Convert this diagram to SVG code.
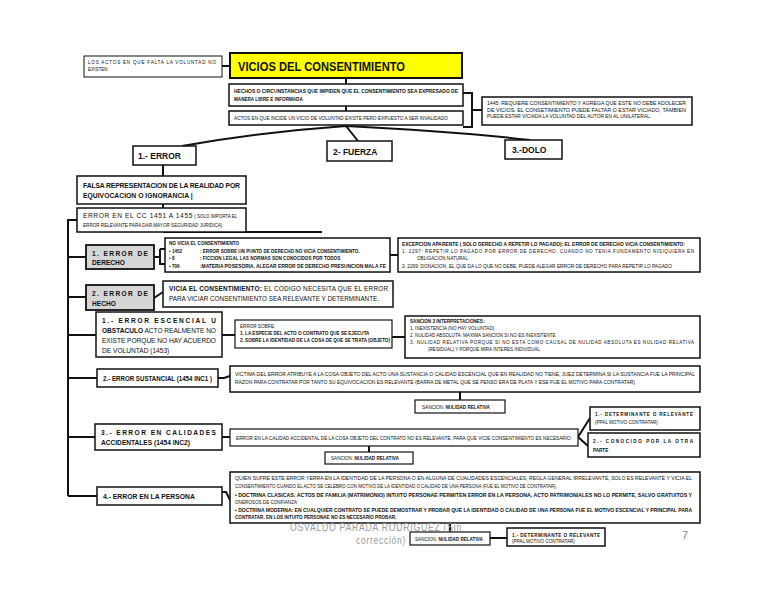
<svg xmlns="http://www.w3.org/2000/svg" width="768" height="594" viewBox="0 0 768 594">
<style>
text{font-family:"Liberation Sans","DejaVu Sans",sans-serif;fill:#111}
.b{fill:#fff;stroke:#111;stroke-width:1.5}
.g{fill:#d6d6d6;stroke:#111;stroke-width:1.8}
.y{fill:#ffff00;stroke:#111;stroke-width:2}
.c{stroke:#111;stroke-width:2;fill:none}
.t{font-size:4.6px}
.tb{font-size:4.6px;font-weight:bold}
.m{font-size:6.6px;font-weight:bold}
.h{font-size:8.5px;font-weight:bold}
.w{font-size:11.5px;fill:#9a9a9a;letter-spacing:1px}
</style>
<rect width="768" height="594" fill="#fff"/>
<g id="connectors">
<line class="c" x1="222" y1="66" x2="230" y2="66"/>
<line class="c" x1="346" y1="78" x2="346" y2="84"/>
<line class="c" x1="346" y1="106" x2="346" y2="111"/>
<path class="c" d="M463,93 L472,93 L472,127 L463,127 M472,110 L482,110"/>
<path class="c" d="M346,126 Q260,132 182,146 M346,126 L358,141 M346,126 Q450,131 530,140"/>
<line class="c" x1="163" y1="165" x2="163" y2="176"/>
<line class="c" x1="163" y1="204" x2="163" y2="208"/>
<line class="c" x1="163" y1="232" x2="322" y2="232"/>
<path class="c" d="M77,220 L68,220 L68,496 M68,257 L86,257 M68,297 L86,297 M68,335 L96,335 M68,378 L97,378 M68,437 L95,437 M68,496 L97,496"/>
<path class="c" d="M154,257 L160,257 M160,249 L160,264 L165,264 M160,249 L165,249"/>
<path class="c" d="M390,255 L398,255"/>
<path class="c" d="M154,298 L163,292"/>
<line class="c" x1="222" y1="335" x2="235" y2="335"/>
<line class="c" x1="392" y1="337" x2="405" y2="337"/>
<path class="c" d="M218,378 L224,378 L230,376"/>
<line class="c" x1="460" y1="392" x2="460" y2="400"/>
<line class="c" x1="222" y1="437" x2="230" y2="437"/>
<line class="c" x1="369" y1="446" x2="369" y2="452"/>
<path class="c" d="M578,437 L590,418 M578,437 L588,446"/>
<path class="c" d="M222,492 L226,492 L230,500"/>
<line class="c" x1="450" y1="523" x2="450" y2="532"/>
<line class="c" x1="490" y1="538" x2="507" y2="538"/>
</g>
<g id="n-actos-falta">
<rect class="b" x="84" y="56" width="138" height="21" style="stroke-width:1"/>
<text class="t" x="88" y="64" textLength="128" lengthAdjust="spacing">LOS ACTOS EN QUE FALTA LA VOLUNTAD NO</text>
<text class="t" x="88" y="71">EXISTEN</text>
</g>
<g id="n-vicios">
<rect class="y" x="230" y="53" width="232" height="25"/>
<text x="238" y="71" font-size="13.5" font-weight="bold" textLength="167" lengthAdjust="spacingAndGlyphs">VICIOS DEL CONSENTIMIENTO</text>
</g>
<g id="n-hechos">
<rect class="b" x="229" y="84" width="234" height="22"/>
<text class="tb" x="234" y="93" textLength="224" lengthAdjust="spacingAndGlyphs">HECHOS O CIRCUNSTANCIAS QUE IMPIDEN QUE EL CONSENTIMIENTO SEA EXPRESADO DE</text>
<text class="tb" x="234" y="101">MANERA LIBRE E INFORMADA</text>
</g>
<g id="n-actos-incide">
<rect class="b" x="229" y="111" width="234" height="14"/>
<text class="t" x="234" y="120" textLength="214" lengthAdjust="spacingAndGlyphs">ACTOS EN QUE INCIDE UN VICIO DE VOLUNTAD EXISTE PERO EXPUESTO A SER INVALIDADO</text>
</g>
<g id="n-1445">
<rect class="b" x="482" y="97" width="210" height="28"/>
<text class="t" x="487" y="105" textLength="199" lengthAdjust="spacingAndGlyphs">1445: REQUIERE CONSENTIMIENTO Y AGREGA QUE ESTE NO DEBE ADOLECER</text>
<text class="t" x="487" y="111.5" textLength="199" lengthAdjust="spacingAndGlyphs">DE VICIOS. EL CONSETIMIENTO PUEDE FALTAR O ESTAR VICIADO, TAMBIEN</text>
<text class="t" x="487" y="118" textLength="164" lengthAdjust="spacingAndGlyphs">PUEDE ESTAR VICIADA LA VOLUNTAD DEL AUTOR EN AL UNILATERAL.</text>
</g>
<g id="n-error">
<rect class="b" x="133" y="146" width="63" height="19"/>
<text class="h" x="138" y="159">1.- ERROR</text>
</g>
<g id="n-fuerza">
<rect class="b" x="327" y="141" width="65" height="20"/>
<text class="h" x="333" y="155">2- FUERZA</text>
</g>
<g id="n-dolo">
<rect class="b" x="505" y="140" width="57" height="19"/>
<text class="h" x="512" y="153">3.-DOLO</text>
</g>
<g id="n-falsa">
<rect class="b" x="77" y="176" width="169" height="28"/>
<text x="83" y="188" font-size="6.8" font-weight="bold" textLength="157" lengthAdjust="spacing">FALSA REPRESENTACION DE LA REALIDAD POR</text>
<text x="83" y="198" font-size="6.8" font-weight="bold">EQUIVOCACION O IGNORANCIA |</text>
</g>
<g id="n-error-cc">
<rect class="b" x="77" y="208" width="169" height="24"/>
<text x="83" y="218" font-size="6.6"><tspan letter-spacing="0.6">ERROR EN EL CC 1451 A 1455</tspan><tspan font-size="4.5"> ( SOLO IMPORTA EL</tspan></text>
<text class="t" x="83" y="227">ERROR RELEVANTE PARA DAR MAYOR SEGURIDAD JURIDICA)</text>
</g>
<g id="n-derecho">
<rect class="g" x="86" y="245" width="68" height="24"/>
<text class="m" x="92" y="256" textLength="56" lengthAdjust="spacing">1. ERROR DE</text>
<text class="m" x="92" y="265">DERECHO</text>
</g>
<g id="n-no-vicia">
<rect class="b" x="165" y="238" width="225" height="34"/>
<text class="tb" x="169" y="245">NO VICIA EL CONSENTIMIENTO</text>
<text class="tb" x="169" y="253">• 1452</text>
<text class="tb" x="200" y="253">: ERROR SOBRE UN PUNTO DE DERECHO NO VICIA CONSENTIMIENTO.</text>
<text class="tb" x="169" y="260">• 8</text>
<text class="tb" x="200" y="260">: FICCION LEGAL LAS NORMAS SON CONOCIDOS POR TODOS</text>
<text class="tb" x="169" y="268">• 706</text>
<text class="tb" x="200" y="268" textLength="186" lengthAdjust="spacingAndGlyphs">:MATERIA POSESORIA, ALEGAR ERROR DE DERECHO PRESUNCION MALA FE</text>
</g>
<g id="n-excepcion">
<rect class="b" x="398" y="238" width="302" height="34"/>
<text class="tb" x="402" y="246" textLength="283" lengthAdjust="spacingAndGlyphs">EXCEPCION  APARENTE ( SOLO DERECHO A REPETIR LO PAGADO): EL ERROR DE DERECHO VICIA CONSENTIMIENTO:</text>
<text class="t" x="402" y="253" textLength="292" lengthAdjust="spacing">1. 2297: REPETIR LO PAGADO POR ERROR DE DERECHO, CUANDO NO TENIA FUNDAMENTO NISIQUIERA EN</text>
<text class="t" x="417" y="259.5">OBLIGACION NATURAL</text>
<text class="t" x="402" y="267.5" textLength="270" lengthAdjust="spacingAndGlyphs">2. 2299: DONACION, EL QUE DA LO QUE NO DEBE, PUEDE ALEGAR ERROR DE DERECHO PARA REPETIR LO PAGADO</text>
</g>
<g id="n-hecho">
<rect class="g" x="86" y="285" width="68" height="25"/>
<text class="m" x="92" y="296" textLength="56" lengthAdjust="spacing">2. ERROR DE</text>
<text class="m" x="92" y="306">HECHO</text>
</g>
<g id="n-vicia">
<rect class="b" x="163" y="281" width="230" height="26"/>
<text x="169" y="291" font-size="6.4" textLength="219" lengthAdjust="spacing"><tspan font-weight="bold">VICIA EL CONSENTIMIENTO:</tspan> EL CODIGO NECESITA QUE EL ERROR</text>
<text x="169" y="301" font-size="6.4" textLength="210" lengthAdjust="spacingAndGlyphs">PARA VICIAR CONSENTIMIENTO SEA RELEVANTE Y DETERMINANTE.</text>
</g>
<g id="n-escencial">
<rect class="b" x="96" y="312" width="126" height="45"/>
<text x="102" y="323" font-size="6.6" font-weight="bold" textLength="114" lengthAdjust="spacing">1.- ERROR ESCENCIAL U</text>
<text x="102" y="333" font-size="6.6" textLength="114" lengthAdjust="spacing"><tspan font-weight="bold">OBSTACULO</tspan> ACTO REALMENTE NO</text>
<text x="102" y="343" font-size="6.6" textLength="114" lengthAdjust="spacing">EXISTE PORQUE NO HAY ACUERDO</text>
<text x="102" y="353" font-size="6.6">DE VOLUNTAD (1453)</text>
</g>
<g id="n-error-sobre">
<rect class="b" x="235" y="320" width="157" height="28" style="stroke-width:1.2"/>
<text class="t" x="240" y="328">ERROR SOBRE:</text>
<text class="tb" x="240" y="335">1. LA ESPECIE DEL ACTO O CONTRATO QUE SE EJECUTA</text>
<text class="tb" x="240" y="341.5" textLength="150" lengthAdjust="spacingAndGlyphs">2. SOBRE LA IDENTIDAD DE LA COSA DE QUE SE TRATA (OBJETO)</text>
</g>
<g id="n-sancion-3">
<rect class="b" x="405" y="316" width="295" height="42"/>
<text class="tb" x="410" y="323">SANCION 3 INTERPRETACIONES:</text>
<text class="t" x="410" y="330">1. INEXISTENCIA (NO HAY VOLUNTAD)</text>
<text class="t" x="410" y="337">2. NULIDAD ABSOLUTA: MAXIMA SANCION SI NO ES INEXISTENTE</text>
<text class="t" x="410" y="344" textLength="284" lengthAdjust="spacing">3. NULIDAD RELATIVA PORQUE SI NO ESTA COMO CAUSAL DE NULIDAD ABSOLUTA ES NULIDAD RELATIVA</text>
<text class="t" x="428" y="351">(RESIDUAL)  Y PORQUE MIRA INTERES INDIVIDUAL</text>
</g>
<g id="n-sustancial">
<rect class="b" x="97" y="369" width="121" height="18"/>
<text class="m" x="103" y="381" textLength="109" lengthAdjust="spacingAndGlyphs">2.- ERROR SUSTANCIAL (1454 INC1 )</text>
</g>
<g id="n-victima">
<rect class="b" x="230" y="366" width="470" height="26"/>
<text class="t" x="235" y="376" textLength="460" lengthAdjust="spacingAndGlyphs">VICTIMA DEL ERROR ATRIBUYE A LA COSA OBJETO DEL ACTO UNA SUSTANCIA O CALIDAD ESCENCIAL QUE EN REALIDAD NO TIENE, JUEZ DETERMINA SI LA SUSTANCIA FUE LA PRINCIPAL</text>
<text class="t" x="235" y="384" textLength="400" lengthAdjust="spacingAndGlyphs">RAZON PARA CONTRATAR POR TANTO SU EQUIVOCACION ES RELEVANTE (BARRA DE METAL QUE SE PENSO ERA DE PLATA Y ESE FUE EL MOTIVO PARA CONTRATAR)</text>
</g>
<g id="n-sancion-nr-1">
<rect class="b" x="415" y="400" width="90" height="13" style="stroke-width:1.2"/>
<text class="t" x="422" y="409">SANCION: <tspan font-weight="bold">NULIDAD RELATIVA</tspan></text>
</g>
<g id="n-determinante-1">
<rect class="b" x="590" y="407" width="110" height="23"/>
<text class="tb" x="595" y="416" textLength="98" lengthAdjust="spacing">1.- DETERMINANTE O RELEVANTE</text>
<text class="t" x="595" y="424">(PPAL MOTIVO CONTRATAR)</text>
</g>
<g id="n-calidades">
<rect class="b" x="95" y="424" width="127" height="26"/>
<text x="101" y="435" font-size="6.6" font-weight="bold" textLength="115" lengthAdjust="spacing">3.- ERROR EN CALIDADES</text>
<text x="101" y="445" font-size="6.6" font-weight="bold">ACCIDENTALES (1454 INC2)</text>
</g>
<g id="n-accidental">
<rect class="b" x="230" y="429" width="348" height="17" style="stroke-width:1.2"/>
<text class="t" x="236" y="439.5" textLength="336" lengthAdjust="spacingAndGlyphs">ERROR EN LA CALIDAD ACCIDENTAL DE LA COSA OBJETO DEL CONTRATO NO ES RELEVANTE, PARA QUE VICIE CONSENTIMIENTO ES NECESARIO:</text>
</g>
<g id="n-conocido">
<rect class="b" x="588" y="433" width="112" height="24"/>
<text class="tb" x="593" y="443" textLength="100" lengthAdjust="spacing">2.- CONOCIDO POR LA OTRA</text>
<text class="tb" x="593" y="452">PARTE</text>
</g>
<g id="n-sancion-nr-2">
<rect class="b" x="325" y="452" width="88" height="12" style="stroke-width:1.2"/>
<text class="t" x="331" y="460">SANCION: <tspan font-weight="bold">NULIDAD RELATIVA</tspan></text>
</g>
<g id="n-persona">
<rect class="b" x="97" y="487" width="125" height="18"/>
<text x="103" y="498.5" font-size="6.8" font-weight="bold">4.- ERROR EN LA PERSONA</text>
</g>
<g id="n-quien">
<rect class="b" x="230" y="472" width="470" height="51"/>
<text class="t" x="235" y="480" textLength="457" lengthAdjust="spacingAndGlyphs">QUIEN SUFRE ESTE ERROR YERRA EN LA IDENTIDAD DE LA PERSONA O EN ALGUNA DE CUALIDADES ESCENCIALES, REGLA GENERAL IRRELEVANTE, SOLO ES RELEVANTE Y VICIA EL</text>
<text class="t" x="235" y="488" textLength="322" lengthAdjust="spacingAndGlyphs">CONSENTIMIENTO CUANDO EL ACTO SE CELEBRO CON MOTIVO DE LA IDENTIDAD O CALIDAD DE UNA PERSONA (FUE EL MOTIVO DE CONTRATAR).</text>
<text class="tb" x="235" y="497" textLength="457" lengthAdjust="spacingAndGlyphs">• DOCTRINA CLASICAS: ACTOS DE FAMILIA (MATRIMONIO) INTUITO PERSONAE PERMITEN ERROR EN LA PERSONA, ACTO PATRIMONIALES NO LO PERMITE, SALVO GRATUITOS Y</text>
<text class="t" x="235" y="504">ONEROSOS DE CONFIANZA</text>
<text class="tb" x="235" y="512" textLength="457" lengthAdjust="spacingAndGlyphs">• DOCTRINA MODERNA: EN CUALQUIER CONTRATO SE PUEDE DEMOSTRAR Y PROBAR QUE LA IDENTIDAD O CALIDAD DE UNA PERSONA FUE EL MOTIVO ESCENCIAL Y PRINCIPAL PARA</text>
<text class="tb" x="235" y="519">CONTRATAR. EN LOS INTUITO PERSONAE NO ES NECESARIO PROBAR.</text>
</g>
<g id="n-sancion-nr-3">
<rect class="b" x="410" y="532" width="80" height="13" style="stroke-width:1.2"/>
<text class="t" x="415" y="541">SANCION: <tspan font-weight="bold">NULIDAD RELATIVA</tspan></text>
</g>
<g id="n-determinante-2">
<rect class="b" x="507" y="528" width="98" height="18"/>
<text class="tb" x="512" y="537" textLength="88" lengthAdjust="spacing">1.- DETERMINANTE O RELEVANTE</text>
<text class="t" x="512" y="543">(PPAL MOTIVO CONTRATAR)</text>
</g>
<g id="watermark">
<text class="w" x="290" y="531" textLength="172" lengthAdjust="spacingAndGlyphs">OSVALDO PARADA RODRIGUEZ (Sin</text>
<text class="w" x="356" y="544" textLength="50" lengthAdjust="spacingAndGlyphs">corrección)</text>
<text x="682" y="539" font-size="11" style="fill:#888">7</text>
</g>
</svg>
